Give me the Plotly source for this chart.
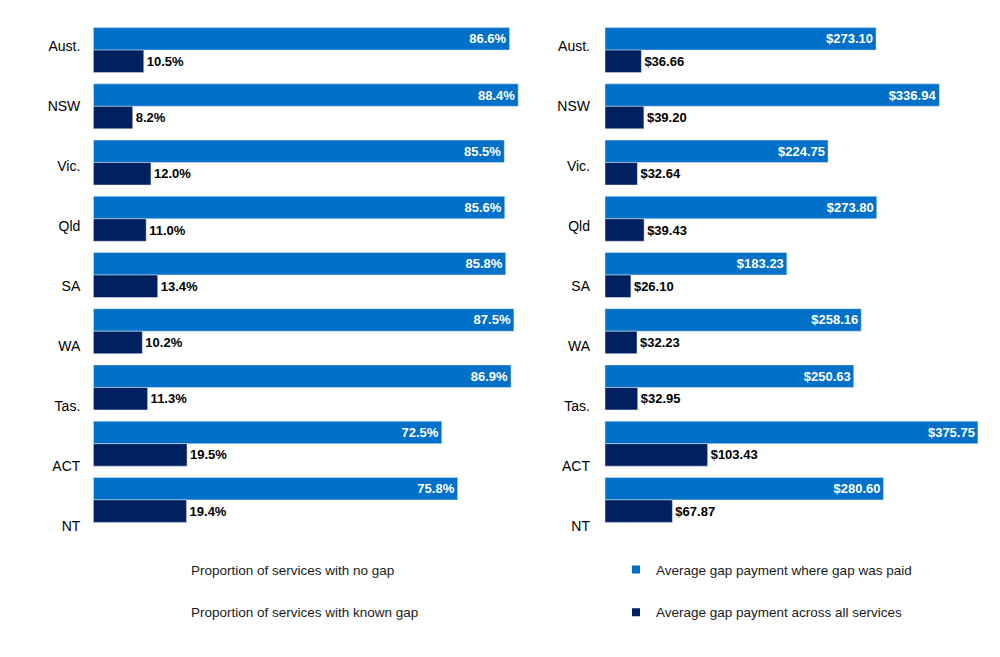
import plotly.graph_objects as go

# ---- data ----
categories = ["Aust.", "NSW", "Vic.", "Qld", "SA", "WA", "Tas.", "ACT", "NT"]
no_gap_pct = [86.6, 88.4, 85.5, 85.6, 85.8, 87.5, 86.9, 72.5, 75.8]
known_gap_pct = [10.5, 8.2, 12.0, 11.0, 13.4, 10.2, 11.3, 19.5, 19.4]
avg_gap_paid = [273.10, 336.94, 224.75, 273.80, 183.23, 258.16, 250.63, 375.75, 280.60]
avg_gap_all = [36.66, 39.20, 32.64, 39.43, 26.10, 32.23, 32.95, 103.43, 67.87]

left_names = ["Proportion of services with no gap", "Proportion of services with known gap"]
right_names = ["Average gap payment where gap was paid", "Average gap payment across all services"]

LIGHT = "#0070C8"
DARK = "#002060"
REG = "Liberation Sans, Arial, sans-serif"
NARROW = "Liberation Sans Narrow, Arial Narrow, Liberation Sans, Arial, sans-serif"

fig = go.Figure()

def add_pair(vals_light, vals_dark, xa, ya, fmt):
    fig.add_trace(go.Bar(
        y=categories, x=vals_light, orientation="h", marker_color=LIGHT,
        xaxis=xa, yaxis=ya, showlegend=False,
        text=[fmt(v) for v in vals_light], textposition="inside", insidetextanchor="end",
        textfont=dict(family=NARROW, size=13, color="white", weight="bold"),
        constraintext="none", textangle=0, hoverinfo="skip"))
    fig.add_trace(go.Bar(
        y=categories, x=vals_dark, orientation="h", marker_color=DARK,
        xaxis=xa, yaxis=ya, showlegend=False,
        text=[fmt(v) for v in vals_dark], textposition="outside",
        textfont=dict(family=NARROW, size=13, color="black", weight="bold"),
        constraintext="none", textangle=0, cliponaxis=False, hoverinfo="skip"))

add_pair(no_gap_pct, known_gap_pct, "x", "y", lambda v: f"{v:.1f}%")
add_pair(avg_gap_paid, avg_gap_all, "x2", "y2", lambda v: f"${v:.2f}")

# invisible anchors for category-label axes
idx = list(range(len(categories)))
fig.add_trace(go.Scatter(x=[0] * len(idx), y=idx, xaxis="x", yaxis="y3", mode="markers",
                         marker=dict(color="rgba(0,0,0,0)"), showlegend=False, hoverinfo="skip"))
fig.add_trace(go.Scatter(x=[0] * len(idx), y=idx, xaxis="x2", yaxis="y4", mode="markers",
                         marker=dict(color="rgba(0,0,0,0)"), showlegend=False, hoverinfo="skip"))

# legend entries
for i, n in enumerate(left_names):
    fig.add_trace(go.Scatter(x=[None], y=[None], xaxis="x", yaxis="y", mode="markers", name=n,
                             marker=dict(color="rgba(0,0,0,0)", size=8), legend="legend",
                             legendgroup=f"l{i}", showlegend=True))
for i, (n, c) in enumerate(zip(right_names, [LIGHT, DARK])):
    fig.add_trace(go.Scatter(x=[None], y=[None], xaxis="x2", yaxis="y2", mode="markers", name=n,
                             marker=dict(color=c, size=8, symbol="square"), legend="legend2",
                             legendgroup=f"r{i}", showlegend=True))

hidden_x = dict(showgrid=False, zeroline=False, showticklabels=False, showline=False, ticks="")
bar_y = dict(type="category", categoryorder="array", categoryarray=categories,
             range=[8.5, -0.5], showgrid=False, zeroline=False, showticklabels=False, ticks="")
label_y = dict(range=[8.028, -0.4], tickmode="array", tickvals=idx, ticktext=categories,
               showgrid=False, zeroline=False, showline=False, ticks="",
               tickfont=dict(family=REG, size=14, color="black"))

legend_common = dict(font=dict(family=REG, size=13.5, color="#1a1a1a"), bgcolor="rgba(0,0,0,0)",
                     traceorder="grouped", tracegroupgap=22, itemsizing="trace",
                     xanchor="left", yanchor="top", orientation="v")

fig.update_layout(
    width=1000, height=657,
    margin=dict(l=0, r=0, t=22, b=129, autoexpand=False),
    paper_bgcolor="white", plot_bgcolor="white",
    barmode="group", bargap=0.2, bargroupgap=0,
    xaxis=dict(domain=[0.0933, 0.574], range=[0, 100], anchor="y", **hidden_x),
    xaxis2=dict(domain=[0.605, 1.0], range=[0, 398], anchor="y2", **hidden_x),
    yaxis=dict(anchor="x", **bar_y),
    yaxis2=dict(anchor="x2", **bar_y),
    yaxis3=dict(overlaying="y", anchor="x", side="left", ticklabelstandoff=12, **label_y),
    yaxis4=dict(overlaying="y2", anchor="x2", side="left", ticklabelstandoff=14, **label_y),
    legend=dict(x=0.151, y=-0.052, **legend_common),
    legend2=dict(x=0.616, y=-0.052, **legend_common),
    font=dict(family=REG),
)

fig.write_html("out.html")
